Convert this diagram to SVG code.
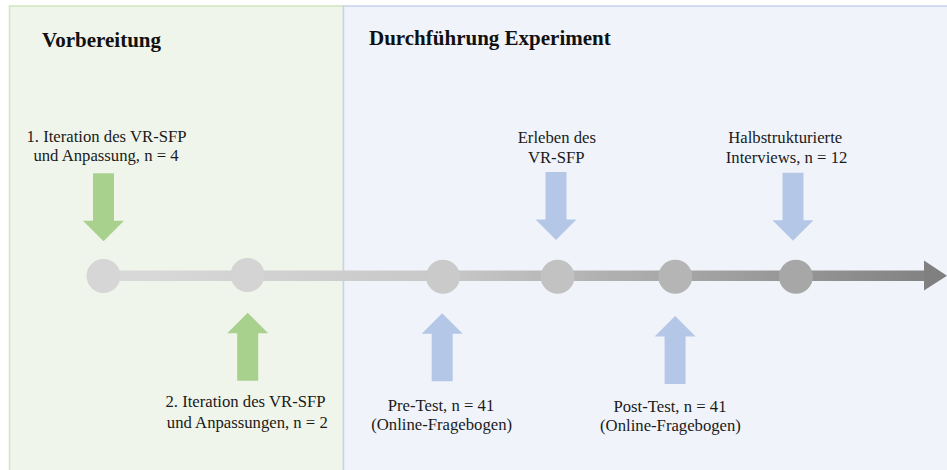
<svg xmlns="http://www.w3.org/2000/svg" xmlns:xlink="http://www.w3.org/1999/xlink" width="947" height="470" viewBox="0 0 947 470">
<style>
  .lbl { font-family: "Liberation Serif", "Times New Roman", serif; font-size: 16.7px; fill: #1a1a1a; text-anchor: middle; }
  .ttl { font-family: "Liberation Serif", "Times New Roman", serif; font-size: 21px; font-weight: bold; fill: #111111; }
  .g-arrow { fill: #a9d18e; }
  .b-arrow { fill: #b4c7e7; }
</style>
<defs>
  <path id="downArrow" d="M -10.5,-68 H 10.5 V -20.5 H 20.5 L 0,0 L -20.5,-20.5 H -10.5 Z"/>
  <linearGradient id="lineGrad" gradientUnits="userSpaceOnUse" x1="103" y1="0" x2="947" y2="0">
    <stop offset="0" stop-color="#dadada"/>
    <stop offset="0.4" stop-color="#c8c8c8"/>
    <stop offset="1" stop-color="#808080"/>
  </linearGradient>
</defs>
<rect x="0" y="0" width="947" height="470" fill="#ffffff"/>
<g id="panel-vorbereitung">
  <rect x="9.5" y="6" width="334" height="470" fill="#f0f5eb" stroke="#cfe5c0" stroke-width="1.5"/>
  <text class="ttl" x="42" y="47">Vorbereitung</text>
</g>
<g id="panel-durchfuehrung">
  <rect x="343.5" y="6" width="610" height="470" fill="#f0f4fa" stroke="#c3d4ec" stroke-width="1.5"/>
  <text class="ttl" x="369" y="44.5">Durchführung Experiment</text>
</g>
<g id="connectors">
  <rect x="103" y="270.5" width="823" height="10.5" fill="url(#lineGrad)"/>
  <path d="M 924,260.5 L 947,275.8 L 924,290.5 Z" fill="#808080"/>
</g>
<g id="iteration1">
  <circle cx="103.5" cy="276" r="17" fill="#d6d6d6"/>
  <use xlink:href="#downArrow" class="g-arrow" transform="translate(103.5,241.3)"/>
  <text class="lbl" x="106.5" y="141.5">1. Iteration des VR-SFP</text>
  <text class="lbl" x="106" y="161">und Anpassung, n = 4</text>
</g>
<g id="iteration2">
  <circle cx="247.5" cy="275" r="17" fill="#d4d4d4"/>
  <use xlink:href="#downArrow" class="g-arrow" transform="translate(247.7,312.7) scale(1,-1)"/>
  <text class="lbl" x="245.5" y="407.3">2. Iteration des VR-SFP</text>
  <text class="lbl" x="247.3" y="427.7">und Anpassungen, n = 2</text>
</g>
<g id="pretest">
  <circle cx="443" cy="276.8" r="17" fill="#cacaca"/>
  <use xlink:href="#downArrow" class="b-arrow" transform="translate(442.2,313.3) scale(1,-1)"/>
  <text class="lbl" x="441" y="410.7">Pre-Test, n = 41</text>
  <text class="lbl" x="441.7" y="430">(Online-Fragebogen)</text>
</g>
<g id="erleben">
  <circle cx="557.6" cy="276.8" r="17" fill="#c2c2c2"/>
  <use xlink:href="#downArrow" class="b-arrow" transform="translate(556,240)"/>
  <text class="lbl" x="556.8" y="142.7">Erleben des</text>
  <text class="lbl" x="556.2" y="162.7">VR-SFP</text>
</g>
<g id="posttest">
  <circle cx="675.3" cy="276.8" r="17" fill="#b5b5b5"/>
  <use xlink:href="#downArrow" class="b-arrow" transform="translate(675.1,316) scale(1,-1)"/>
  <text class="lbl" x="670" y="411.7">Post-Test, n = 41</text>
  <text class="lbl" x="670.5" y="431">(Online-Fragebogen)</text>
</g>
<g id="interviews">
  <circle cx="795.9" cy="276.8" r="17" fill="#a7a7a7"/>
  <use xlink:href="#downArrow" class="b-arrow" transform="translate(793,240.7)"/>
  <text class="lbl" x="785.2" y="142.7">Halbstrukturierte</text>
  <text class="lbl" x="786.6" y="162.7">Interviews, n = 12</text>
</g>
</svg>
